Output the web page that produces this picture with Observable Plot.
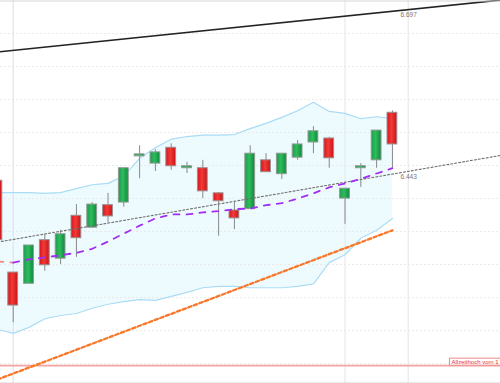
<!DOCTYPE html>
<html><head><meta charset="utf-8">
<script src="https://cdn.jsdelivr.net/npm/d3@7"></script>
<script src="https://cdn.jsdelivr.net/npm/@observablehq/plot@0.6"></script>
<style>
html,body{margin:0;padding:0;background:#fff;overflow:hidden}
#chart svg{display:block;overflow:hidden}
</style>
</head><body><div id="chart"></div>
<script>
// trading-day index (-1 = partially visible candle at the left edge)
const dayIndex = d3.range(-1, 25);
const open  = [6.427, 6.288, 6.271, 6.337, 6.309, 6.374, 6.356, 6.390, 6.394, 6.464, 6.453, 6.477, 6.446, 6.446, 6.408, 6.382, 6.384, 6.458, 6.437, 6.462, 6.485, 6.491, 6.400, 6.446, 6.458, 6.530];
const high  = [6.430, 6.288, 6.329, 6.346, 6.352, 6.391, 6.394, 6.408, 6.447, 6.480, 6.474, 6.483, 6.455, 6.458, 6.409, 6.394, 6.480, 6.468, 6.468, 6.488, 6.509, 6.493, 6.415, 6.453, 6.503, 6.533];
const low   = [6.331, 6.212, 6.271, 6.290, 6.300, 6.311, 6.355, 6.364, 6.387, 6.430, 6.441, 6.443, 6.438, 6.400, 6.343, 6.353, 6.384, 6.440, 6.429, 6.458, 6.468, 6.446, 6.361, 6.417, 6.446, 6.446];
const close = [6.337, 6.238, 6.329, 6.299, 6.346, 6.340, 6.391, 6.373, 6.446, 6.467, 6.470, 6.449, 6.449, 6.411, 6.396, 6.370, 6.468, 6.440, 6.468, 6.482, 6.502, 6.461, 6.415, 6.449, 6.503, 6.482];

// Bollinger bands
const upper  = [6.409, 6.409, 6.409, 6.408, 6.409, 6.415, 6.421, 6.423, 6.434, 6.461, 6.477, 6.490, 6.494, 6.496, 6.496, 6.497, 6.506, 6.514, 6.523, 6.533, 6.546, 6.532, 6.529, 6.521, 6.524, 6.521];
const middle = [6.305, 6.303, 6.308, 6.311, 6.314, 6.318, 6.324, 6.335, 6.347, 6.359, 6.370, 6.376, 6.376, 6.379, 6.381, 6.384, 6.385, 6.390, 6.393, 6.400, 6.408, 6.417, 6.423, 6.430, 6.438, 6.446];
const lower  = [6.202, 6.196, 6.205, 6.218, 6.223, 6.226, 6.234, 6.240, 6.244, 6.247, 6.246, 6.252, 6.258, 6.265, 6.267, 6.267, 6.265, 6.265, 6.265, 6.267, 6.271, 6.303, 6.315, 6.340, 6.352, 6.370];

// trend lines (start / end points)
const blackTrend  = [{i: -1, v: 6.622}, {i: 31, v: 6.701}];
const grayTrend   = [{i: -1, v: 6.334}, {i: 31, v: 6.466}];
const orangeTrend = [{i: -1, v: 6.126}, {i: 24, v: 6.352}];
const allTimeHigh = 6.147;
const gridPrices = [6.15, 6.20, 6.25, 6.30, 6.35, 6.40, 6.45, 6.50, 6.55, 6.60, 6.65];
const monthLines = [{i: 0, c: "#e2e2f2"}, {i: 21, c: "#e8e8e8"}, {i: 25, c: "#e8e8e8"}];
const lineLabels = [
  {text: "6.697", i: 24.51, line: blackTrend},
  {text: "6.443", i: 24.51, line: grayTrend}
];
const athLabel = "Allzeithoch vom 1";

const candles = dayIndex.map((i, k) => ({i, o: open[k], h: high[k], l: low[k], c: close[k]}));
const band = dayIndex.map((i, k) => ({i, up: upper[k], mid: middle[k], lo: lower[k]}));
const valueAt = (line, i) => line[0].v + (line[1].v - line[0].v) * (i - line[0].i) / (line[1].i - line[0].i);
const labelData = lineLabels.map(d => ({text: d.text, i: d.i, v: valueAt(d.line, d.i)}));
const up = candles.filter(d => d.c >= d.o);
const down = candles.filter(d => d.c < d.o);
const hw = 0.31;

const svg = Plot.plot({
  width: 500, height: 383,
  margin: 0,
  x: {domain: [-0.804, 30.84], axis: null},
  y: {domain: [6.12, 6.70], axis: null},
  style: {fontFamily: "'Liberation Sans', Arial, sans-serif", background: "#fff"},
  marks: [
    Plot.areaY(band, {x: "i", y1: "lo", y2: "up", fill: "#eefbfe", clip: true}),
    Plot.ruleY(gridPrices, {stroke: "#e9e9e9", strokeDasharray: "2,2", strokeWidth: 1}),
    Plot.ruleX(monthLines, {x: "i", stroke: "c", strokeWidth: 1.2}),
    Plot.lineY(band, {x: "i", y: "up", stroke: "#aadcf5", strokeWidth: 1.2, clip: true}),
    Plot.lineY(band, {x: "i", y: "lo", stroke: "#aadcf5", strokeWidth: 1.2, clip: true}),
    Plot.ruleY([allTimeHigh], {stroke: "#f3a3a3", strokeWidth: 1.6}),
    Plot.ruleX(candles, {x: "i", y1: "l", y2: "h", stroke: "#888", strokeWidth: 1, clip: true}),
    Plot.rect(up, {x1: d => d.i - hw, x2: d => d.i + hw, y1: "o", y2: "c", fill: "url(#gUp)", stroke: "#8f9a93", strokeWidth: 1, clip: true}),
    Plot.rect(down, {x1: d => d.i - hw, x2: d => d.i + hw, y1: "o", y2: "c", fill: "url(#gDown)", stroke: "#9a8f8f", strokeWidth: 1, clip: true}),
    Plot.line(orangeTrend, {x: "i", y: "v", stroke: "#f7782a", strokeWidth: 2.3, strokeDasharray: "3.5,2.5", clip: true}),
    Plot.line(grayTrend, {x: "i", y: "v", stroke: "#6e6e6e", strokeWidth: 1.1, strokeDasharray: "2,2", clip: true}),
    Plot.lineY(band.slice(0, 2), {x: "i", y: "mid", stroke: "#f08a80", strokeWidth: 1.8, strokeDasharray: "6,7", clip: true}),
    Plot.lineY(band.slice(1), {x: "i", y: "mid", stroke: "#a22ef2", strokeWidth: 1.8, strokeDasharray: "6,7", clip: true}),
    Plot.line(blackTrend, {x: "i", y: "v", stroke: "#222", strokeWidth: 1.6, clip: true}),
    Plot.text(labelData, {x: "i", y: "v", text: "text", textAnchor: "start", lineAnchor: "top", dy: 2, fill: "#777", fontSize: 6.5}),
    Plot.text([athLabel], {frameAnchor: "right", y: allTimeHigh, text: d => d, textAnchor: "end", lineAnchor: "bottom", dy: -2, dx: -2, fill: "#e53030", fontSize: 6}),
    Plot.ruleY([6.70], {stroke: "#d6d6d6", dy: 0.5}),
    Plot.ruleY([6.12], {stroke: "#d6d6d6", dy: -0.5})
  ]
});
document.getElementById("chart").append(svg);

const s = d3.select(svg);
const defs = s.insert("defs", ":first-child");
function grad(id, c1, c2, c3) {
  const g = defs.append("linearGradient").attr("id", id).attr("x1", 0).attr("x2", 1).attr("y1", 0).attr("y2", 0);
  g.append("stop").attr("offset", 0).attr("stop-color", c1);
  g.append("stop").attr("offset", 0.45).attr("stop-color", c2);
  g.append("stop").attr("offset", 1).attr("stop-color", c3);
}
grad("gUp", "#1a9e48", "#2fbb5e", "#0d8a3c");
grad("gDown", "#d8141c", "#f23a36", "#c9141a");

// frame box behind the all-time-high label, running to the right edge
const t = [...svg.querySelectorAll("text")].find(e => e.textContent.startsWith("Allzeithoch"));
if (t) {
  const bb = t.getBBox();
  const r = document.createElementNS("http://www.w3.org/2000/svg", "rect");
  r.setAttribute("x", bb.x - 2);
  r.setAttribute("y", bb.y - 0.5);
  r.setAttribute("width", bb.width + 12);
  r.setAttribute("height", bb.height + 1);
  r.setAttribute("fill", "#fff");
  r.setAttribute("stroke", "#f08a8a");
  r.setAttribute("stroke-width", 1);
  if (t.getAttribute("transform")) r.setAttribute("transform", t.getAttribute("transform"));
  t.parentNode.insertBefore(r, t);
}
</script></body></html>
